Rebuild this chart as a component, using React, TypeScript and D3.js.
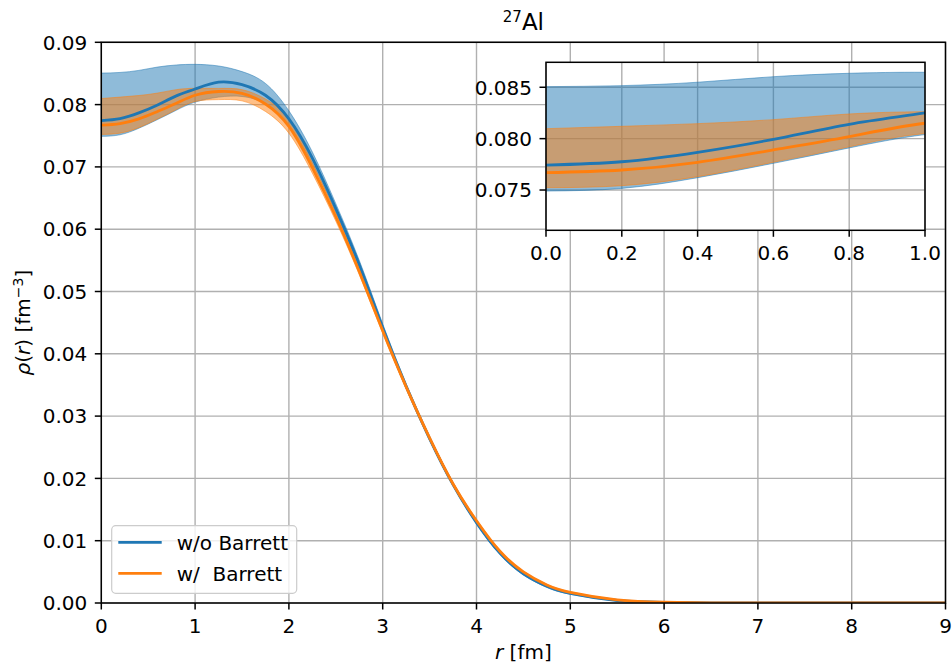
import React from 'react';
import * as d3 from 'd3';

// ---------- data ----------
const R = [0, 0.2, 0.4, 0.6, 0.8, 1.0, 1.25, 1.5, 1.75, 2.0, 2.25, 2.5, 2.75, 3.0, 3.25, 3.5, 3.75, 4.0, 4.25, 4.5, 4.75, 5.0, 5.5, 6.0, 6.5, 7.0, 8.0, 9.0];

const BLUE_MID = [0.07743, 0.07775, 0.07867, 0.07994, 0.0814, 0.0825, 0.0836, 0.0832, 0.0815, 0.0777, 0.0714, 0.0633, 0.0543, 0.0442, 0.0348, 0.0264, 0.019, 0.0129, 0.008, 0.0047, 0.0027, 0.00155, 0.0004, 0.0001, 0.00002, 0, 0, 0];
const BLUE_LO = [0.0749, 0.07516, 0.0762, 0.0776, 0.0791, 0.0804, 0.0812, 0.0813, 0.0801, 0.0766, 0.0705, 0.0626, 0.0537, 0.0437, 0.0344, 0.0261, 0.0188, 0.0127, 0.0078, 0.0045, 0.0025, 0.0014, 0.00035, 0.00008, 0.00001, 0, 0, 0];
const BLUE_HI = [0.08506, 0.08516, 0.08549, 0.08603, 0.08636, 0.08646, 0.0862, 0.0853, 0.0834, 0.079, 0.0724, 0.0641, 0.055, 0.0448, 0.0352, 0.0267, 0.0193, 0.0131, 0.0082, 0.0049, 0.0029, 0.0017, 0.00045, 0.00012, 0.00003, 0, 0, 0];

const ORANGE_MID = [0.07669, 0.07695, 0.0777, 0.0789, 0.0802, 0.0815, 0.0821, 0.0818, 0.0801, 0.0765, 0.0699, 0.062, 0.0532, 0.0437, 0.0347, 0.0265, 0.0191, 0.0132, 0.0083, 0.005, 0.0029, 0.0017, 0.0005, 0.00012, 0.00003, 0, 0, 0];
const ORANGE_LO = [0.07522, 0.07542, 0.0763, 0.0777, 0.0792, 0.0805, 0.0808, 0.0806, 0.0789, 0.0754, 0.069, 0.0613, 0.0527, 0.0433, 0.0344, 0.0263, 0.0189, 0.013, 0.0082, 0.0049, 0.0028, 0.0016, 0.00045, 0.0001, 0.00002, 0, 0, 0];
const ORANGE_HI = [0.08097, 0.0812, 0.08146, 0.08185, 0.0824, 0.08262, 0.0826, 0.0824, 0.0809, 0.0776, 0.0707, 0.0627, 0.0537, 0.0441, 0.035, 0.0267, 0.0194, 0.0134, 0.0085, 0.0051, 0.003, 0.0018, 0.00055, 0.00014, 0.00004, 0, 0, 0];

const SERIES = [
  { name: 'w/o Barrett', color: '#1f77b4', mid: BLUE_MID, lo: BLUE_LO, hi: BLUE_HI },
  { name: 'w/  Barrett', color: '#ff7f0e', mid: ORANGE_MID, lo: ORANGE_LO, hi: ORANGE_HI },
];

const X_TICKS = [0, 1, 2, 3, 4, 5, 6, 7, 8, 9];
const Y_TICKS = [0, 0.01, 0.02, 0.03, 0.04, 0.05, 0.06, 0.07, 0.08, 0.09];
const INSET_X_TICKS = [0, 0.2, 0.4, 0.6, 0.8, 1.0];
const INSET_Y_TICKS = [0.075, 0.08, 0.085];
const INSET_Y_DOMAIN = [0.07108, 0.08743];

// ---------- layout ----------
const W = 952, H = 668;
const M = { left: 101.3, right: 945.5, top: 42.3, bottom: 603 };
const INS = { left: 546, right: 925, top: 62.3, bottom: 230.3 };
const FONT = 'DejaVu Sans, sans-serif';
const FS = 20;
const GRID = '#b0b0b0';
const TICK = 6.5;

export default function App() {
  const x = d3.scaleLinear().domain([0, 9]).range([M.left, M.right]);
  const y = d3.scaleLinear().domain([0, 0.09]).range([M.bottom, M.top]);
  const xi = d3.scaleLinear().domain([0, 1]).range([INS.left, INS.right]);
  const yi = d3.scaleLinear().domain(INSET_Y_DOMAIN).range([INS.bottom, INS.top]);

  const rows = (s: any) => R.map((r, i) => ({ r, m: s.mid[i], lo: s.lo[i], hi: s.hi[i] }));

  const mk = (xs: any, ys: any, pts: any[]) => {
    const area = d3.area<any>().x(d => xs(d.r)).y0(d => ys(d.lo)).y1(d => ys(d.hi)).curve(d3.curveNatural);
    const line = d3.line<any>().x(d => xs(d.r)).y(d => ys(d.m)).curve(d3.curveNatural);
    return { area: area(pts) || '', line: line(pts) || '' };
  };

  const mainPaths = SERIES.map(s => mk(x, y, rows(s)));
  const insetPaths = SERIES.map(s => mk(xi, yi, rows(s).filter(d => d.r <= 1.5)));

  const fmt2 = d3.format('.2f');
  const fmt3 = d3.format('.3f');
  const fmt1 = d3.format('.1f');

  const drawContent = (paths: any[]) => (
    <>
      {paths.map((p, i) => (
        <path key={'a' + i} d={p.area} fill={SERIES[i].color} fillOpacity={0.5}
          stroke={SERIES[i].color} strokeOpacity={0.5} strokeWidth={1} />
      ))}
      {paths.map((p, i) => (
        <path key={'l' + i} d={p.line} fill="none" stroke={SERIES[i].color} strokeWidth={2.8} />
      ))}
    </>
  );

  return (
    <svg width={W} height={H} style={{ position: 'absolute', left: 0, top: 0, background: '#fff' }}
      fontFamily={FONT}>
      <defs>
        <clipPath id="mainClip">
          <rect x={M.left} y={M.top} width={M.right - M.left} height={M.bottom - M.top} />
        </clipPath>
        <clipPath id="insClip">
          <rect x={INS.left} y={INS.top} width={INS.right - INS.left} height={INS.bottom - INS.top} />
        </clipPath>
      </defs>
      <rect x={0} y={0} width={W} height={H} fill="#fff" />

      {/* main grid */}
      {X_TICKS.map(t => (
        <line key={'gx' + t} x1={x(t)} x2={x(t)} y1={M.top} y2={M.bottom} stroke={GRID} strokeWidth={1.4} />
      ))}
      {Y_TICKS.map(t => (
        <line key={'gy' + t} x1={M.left} x2={M.right} y1={y(t)} y2={y(t)} stroke={GRID} strokeWidth={1.4} />
      ))}

      <g clipPath="url(#mainClip)">{drawContent(mainPaths)}</g>

      {/* main spines */}
      <rect x={M.left} y={M.top} width={M.right - M.left} height={M.bottom - M.top} fill="none" stroke="#000" strokeWidth={1.5} />

      {/* main ticks */}
      {X_TICKS.map(t => (
        <g key={'tx' + t}>
          <line x1={x(t)} x2={x(t)} y1={M.bottom} y2={M.bottom + TICK} stroke="#000" strokeWidth={1.5} />
          <text x={x(t)} y={633} fontSize={FS} textAnchor="middle" fill="#000">{t}</text>
        </g>
      ))}
      {Y_TICKS.map(t => (
        <g key={'ty' + t}>
          <line x1={M.left - TICK} x2={M.left} y1={y(t)} y2={y(t)} stroke="#000" strokeWidth={1.5} />
          <text x={M.left - 14} y={y(t)} dy="0.364em" fontSize={FS} textAnchor="end" fill="#000">{fmt2(t)}</text>
        </g>
      ))}

      {/* axis labels */}
      <text x={(M.left + M.right) / 2} y={659} fontSize={FS} textAnchor="middle" fill="#000">
        <tspan fontStyle="italic">r</tspan><tspan> [fm]</tspan>
      </text>
      <text transform={`translate(30,${(M.top + M.bottom) / 2}) rotate(-90)`} fontSize={FS} textAnchor="middle" fill="#000">
        <tspan fontStyle="italic">ρ</tspan><tspan>(</tspan><tspan fontStyle="italic">r</tspan><tspan>) [fm</tspan>
        <tspan fontSize={14} dy={-7}>−3</tspan><tspan dy={7}>]</tspan>
      </text>

      {/* title */}
      <text x={(M.left + M.right) / 2} y={30} textAnchor="middle" fill="#000">
        <tspan fontSize={15} dy={-8}>27</tspan><tspan fontSize={23} dy={8}>Al</tspan>
      </text>

      {/* legend */}
      <g>
        <rect x={111.7} y={525.7} width={185} height={67.6} rx={4} ry={4} fill="#fff" fillOpacity={0.8} stroke="#cccccc" strokeWidth={1.2} />
        {SERIES.map((s, i) => (
          <g key={'lg' + i}>
            <line x1={118.3} x2={161.7} y1={542.3 + i * 31} y2={542.3 + i * 31} stroke={s.color} strokeWidth={2.8} />
            <text x={176.7} y={549.5 + i * 31} fontSize={FS} fill="#000" style={{ whiteSpace: 'pre' }}>{s.name}</text>
          </g>
        ))}
      </g>

      {/* inset */}
      <rect x={INS.left} y={INS.top} width={INS.right - INS.left} height={INS.bottom - INS.top} fill="#fff" />
      {INSET_X_TICKS.map(t => (
        <line key={'igx' + t} x1={xi(t)} x2={xi(t)} y1={INS.top} y2={INS.bottom} stroke={GRID} strokeWidth={1.4} />
      ))}
      {INSET_Y_TICKS.map(t => (
        <line key={'igy' + t} x1={INS.left} x2={INS.right} y1={yi(t)} y2={yi(t)} stroke={GRID} strokeWidth={1.4} />
      ))}
      <g clipPath="url(#insClip)">{drawContent(insetPaths)}</g>
      <rect x={INS.left} y={INS.top} width={INS.right - INS.left} height={INS.bottom - INS.top} fill="none" stroke="#000" strokeWidth={1.5} />
      {INSET_X_TICKS.map(t => (
        <g key={'itx' + t}>
          <line x1={xi(t)} x2={xi(t)} y1={INS.bottom} y2={INS.bottom + TICK} stroke="#000" strokeWidth={1.5} />
          <text x={xi(t)} y={INS.bottom + 30} fontSize={FS} textAnchor="middle" fill="#000">{fmt1(t)}</text>
        </g>
      ))}
      {INSET_Y_TICKS.map(t => (
        <g key={'ity' + t}>
          <line x1={INS.left - TICK} x2={INS.left} y1={yi(t)} y2={yi(t)} stroke="#000" strokeWidth={1.5} />
          <text x={INS.left - 14} y={yi(t)} dy="0.364em" fontSize={FS} textAnchor="end" fill="#000">{fmt3(t)}</text>
        </g>
      ))}
    </svg>
  );
}
